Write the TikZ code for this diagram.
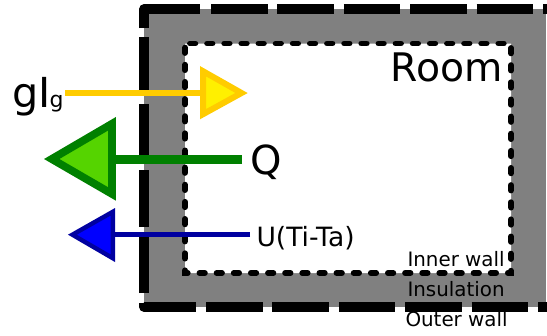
\documentclass[tikz,border=0pt]{standalone}
\usepackage{fontspec}
\setmainfont{DejaVu Sans}
\tikzset{every picture/.style={line width=0.75pt}}
\tikzset{
  outerwall/.style={line width=6.9pt,dash pattern=on 42.5pt off 7.3pt},
  outercorner/.style={line width=6.9pt,line join=round},
  innerwall/.style={line width=4.4pt,line cap=round,dash pattern=on 4pt off 8.85pt,fill=white},
  label/.style={anchor=base west,inner sep=0pt,text=black},
  biglabel/.style={label,font=\fontsize{29.5}{31}\selectfont},
  midlabel/.style={label,font=\fontsize{19.9}{22}\selectfont},
  smalllabel/.style={label,font=\fontsize{14.9}{16}\selectfont},
}
\definecolor{goldline}{RGB}{255,204,0}
\definecolor{goldfill}{RGB}{255,240,0}
\definecolor{greenline}{RGB}{0,128,0}
\definecolor{greenfill}{RGB}{85,212,0}
\definecolor{blueline}{RGB}{0,0,160}
\definecolor{bluefill}{RGB}{0,0,255}
\begin{document}
\begin{tikzpicture}[x=0.75pt,y=0.75pt,yscale=-1,xscale=1]
\useasboundingbox (0,0) rectangle (547,336);

%Insulation
\fill [black!50] (144,9) rectangle (546,307);
%Inner wall
\draw [innerwall] (190,43.5) -- (511,43.5) -- (511,273) -- (185,273) -- (185,43.5) -- cycle;
%Outer wall
\draw [outerwall] (144,293) -- (144,28);
\draw [outercorner] (144,28) -- (144,9) -- (200,9);
\draw [outerwall] (211,9) -- (547,9);
\draw [outercorner] (144,303) -- (144,307) -- (196,307);
\draw [outerwall] (206,307) -- (547,307);

% Text Node
\node (gain) at (12,107) [label,font=\fontsize{31}{32}\selectfont] {gI};
\node (gainsub) at (49,107) [label,font=\fontsize{16.5}{18}\selectfont] {g};
\node (heat) at (250,174) [label,font=\fontsize{30}{32}\selectfont] {Q};
\node (loss) at (256,246) [midlabel] {U(Ti-Ta)};
\node (room) at (390,81) [biglabel] {Room};
\node (inner) at (407,266) [smalllabel] {Inner wall};
\node (insul) at (407,296) [smalllabel] {Insulation};
\node (outer) at (405,326) [smalllabel] {Outer wall};

%Yellow arrow
\coordinate (yellowstart) at (65,93);
\coordinate (yellowend) at (203,93);
\draw [goldline,line width=4pt] (yellowstart) -- (yellowend);
\draw [goldline,line width=4.5pt,fill=goldfill,miter limit=10] (yellowend) -- (203,71.2) -- (241.5,93) -- (203,114.2) -- cycle;
%Green arrow
\coordinate (greenstart) at (242,159);
\coordinate (greenend) at (112.1,159);
\draw [greenline,line width=6.75pt] (greenstart) -- (greenend);
\draw [greenline,line width=5.8pt,fill=greenfill,miter limit=10] (greenend) -- (112.1,123.7) -- (51.7,159) -- (112.1,194) -- cycle;
%Blue arrow
\coordinate (bluestart) at (250,234.7);
\coordinate (blueend) at (112.8,234.7);
\draw [blueline,line width=4pt] (bluestart) -- (blueend);
\draw [blueline,line width=3.3pt,fill=bluefill,miter limit=10] (blueend) -- (112.8,211.8) -- (72.4,234.7) -- (112.8,258.2) -- cycle;

\end{tikzpicture}
\end{document}
